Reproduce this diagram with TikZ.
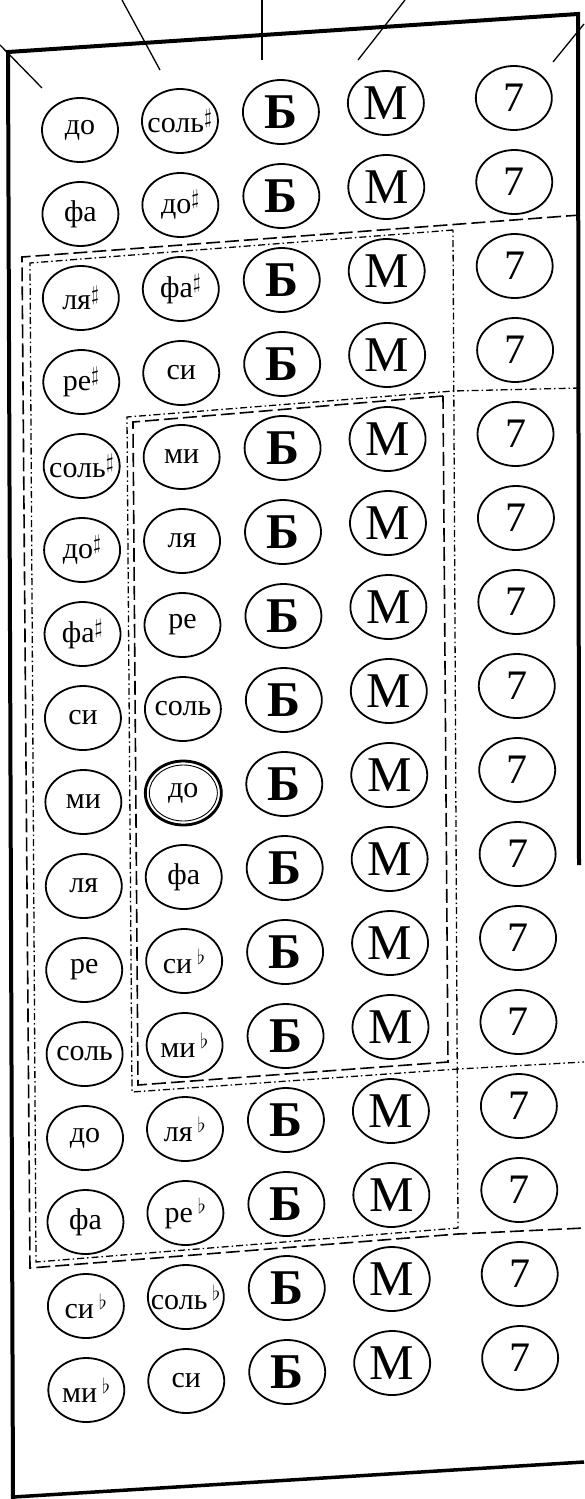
\documentclass[tikz,border=0pt]{standalone}
\usepackage{fontspec}
\setmainfont{Liberation Serif}
\usetikzlibrary{shapes.geometric}
\newcommand\sh{$^{\sharp}$}
\newcommand\fl{\,$^{\flat}$}
\newcommand\zw[1]{\makebox[0pt]{#1}}
\begin{document}
\begin{tikzpicture}[x=1pt,y=-1pt,
  key/.style={draw, ellipse, line width=1.8pt, minimum width=76pt, minimum height=64pt,
    inner sep=0pt, font=\fontsize{30}{30}\selectfont},
  basskey/.style={key, font=\fontsize{50}{50}\selectfont\bfseries},
  majkey/.style={key, font=\fontsize{50}{50}\selectfont},
  sevkey/.style={key, font=\fontsize{42}{42}\selectfont},
  framel/.style={line width=4pt},
  leader/.style={line width=1.3pt},
  longdash/.style={line width=1.6pt, dash pattern=on 14pt off 5pt},
  dashdot/.style={line width=1.3pt, dash pattern=on 7pt off 3pt on 1.5pt off 3pt}]
\useasboundingbox (0,0) rectangle (584,1499);

% frame
\coordinate (TL) at (8,52);
\coordinate (TR) at (578,14);
\coordinate (RE) at (579,865);
\coordinate (BL) at (13,1499);
\coordinate (BLc) at (13,1497);
\coordinate (BR) at (584,1462);
\draw[framel] (RE) -- (TR) -- (TL) -- (BL);
\draw[line width=3.5pt] (BLc) -- (BR);

% leader lines
\coordinate (l1a) at (0,45);   \coordinate (l1b) at (42,88);
\coordinate (l2a) at (122,0);  \coordinate (l2b) at (160,70);
\coordinate (l3a) at (262,0);  \coordinate (l3b) at (262,60);
\coordinate (l4a) at (405,0);  \coordinate (l4b) at (358,60);
\coordinate (l5a) at (584,24); \coordinate (l5b) at (553,62);
\foreach \i in {1,...,5}{\draw[leader] (l\i a) -- (l\i b);}

% column 1
\foreach \t [count=\r] in {до,фа,ля\sh,ре\sh,соль\sh,до\sh,фа\sh,си,ми,ля,ре,соль,до,фа,си\fl,ми\fl}{
  \pgfmathsetmacro\yy{130+84*(\r-1)}
  \pgfmathsetmacro\xx{80+0.005*(\yy-130)}
  \node[key] (a\r) at (\xx,\yy) {\zw{\t}};
}
% column 2
\foreach \t [count=\r] in {соль\sh,до\sh,фа\sh,си,ми,ля,ре,соль,до,фа,си\fl,ми\fl,ля\fl,ре\fl,соль\fl,си}{
  \pgfmathsetmacro\yy{130+84*(\r-1)-9}
  \pgfmathsetmacro\xx{180+0.005*(\yy-130)}
  \node[key] (b\r) at (\xx,\yy) {\zw{\t}};
}
% columns 3-5
\foreach \r in {1,...,16}{
  \pgfmathsetmacro\yy{130+84*(\r-1)-18}
  \pgfmathsetmacro\xx{281+0.005*(\yy-130)}
  \node[basskey] (c\r) at (\xx,\yy) {Б};
  \pgfmathsetmacro\yy{130+84*(\r-1)-27}
  \pgfmathsetmacro\xx{386+0.005*(\yy-130)}
  \node[majkey] (d\r) at (\xx,\yy) {М};
  \pgfmathsetmacro\yy{130+84*(\r-1)-32}
  \pgfmathsetmacro\xx{514+0.005*(\yy-130)}
  \node[sevkey] (e\r) at (\xx,\yy) {7};
}
% double ring on the central "do"
\draw[line width=2.8pt] (b9.center) ellipse (38 and 32);
\draw[line width=0.9pt] (b9.center) ellipse (34 and 28);

% dashed regions
\coordinate (r1a) at (580,215);
\coordinate (r1b) at (22,257);
\coordinate (r1c) at (30,1268);
\coordinate (r1e) at (458,1234);
\coordinate (r1d) at (584,1228);
\draw[longdash] (r1a) -- (r1b) -- (r1c) -- (r1e) -- (r1d);

\coordinate (r2a) at (453,230);
\coordinate (r2b) at (30,263);
\coordinate (r2c) at (36,1262);
\coordinate (r2d) at (458,1228);
\draw[dashdot] (r2a) -- (r2b) -- (r2c) -- (r2d) -- cycle;

\coordinate (r3a) at (580,388);
\coordinate (r3e) at (453,391);
\coordinate (r3b) at (127,417);
\coordinate (r3c) at (132,1092);
\coordinate (r3f) at (458,1069);
\coordinate (r3d) at (584,1062);
\draw[dashdot] (r3a) -- (r3e) -- (r3b) -- (r3c) -- (r3f) -- (r3d);

\coordinate (r4a) at (443,396);
\coordinate (r4b) at (133,422);
\coordinate (r4c) at (138,1085);
\coordinate (r4d) at (448,1062);
\draw[longdash] (r4a) -- (r4b) -- (r4c) -- (r4d) -- cycle;
\end{tikzpicture}
\end{document}
